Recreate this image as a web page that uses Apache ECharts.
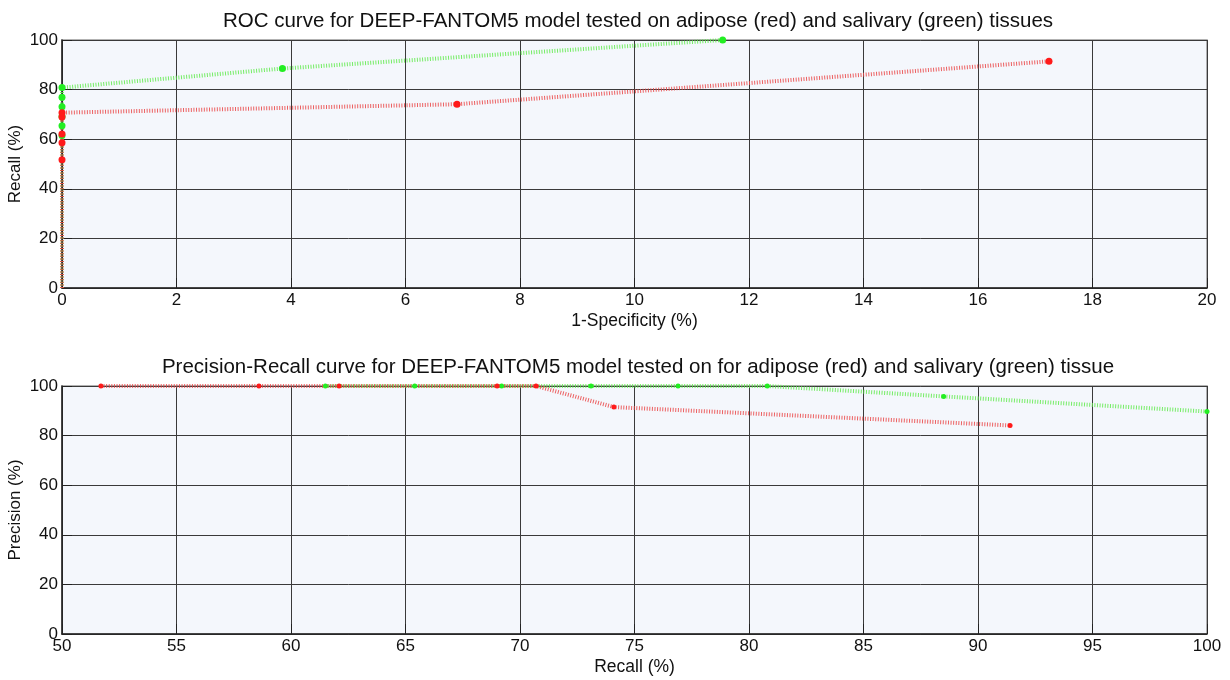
<!DOCTYPE html>
<html>
<head>
<meta charset="utf-8">
<script src="https://cdn.jsdelivr.net/npm/echarts@6/dist/echarts.min.js"></script>
<style>
html,body{margin:0;padding:0;background:#fff;}
#c{width:1230px;height:680px;}
</style>
</head>
<body>
<div id="c"></div>
<script>
// ROC data (percent)
const rocRedFpr   = [0, 0, 0, 0, 0, 0, 6.9, 17.24];
const rocRedTpr   = [0, 51.7, 58.6, 62.1, 69.0, 70.7, 74.1, 91.4];
const rocGreenFpr = [0, 0, 0, 0, 0, 0, 0, 3.85, 11.54];
const rocGreenTpr = [0, 61.5, 65.4, 69.2, 73.1, 76.9, 80.8, 88.5, 100];
// Precision-Recall data (percent)
const prRedRecall      = [51.7, 58.6, 62.1, 69.0, 70.7, 74.1, 91.4];
const prRedPrecision   = [100, 100, 100, 100, 100, 91.5, 84.1];
const prGreenRecall    = [61.5, 65.4, 69.2, 73.1, 76.9, 80.8, 88.5, 100];
const prGreenPrecision = [100, 100, 100, 100, 100, 100, 95.8, 89.7];
// Titles / labels
const rocTitle = 'ROC curve for DEEP-FANTOM5 model tested on adipose (red) and salivary (green) tissues';
const prTitle = 'Precision-Recall curve for DEEP-FANTOM5 model tested on for adipose (red) and salivary (green) tissue';

const FONT = '"Liberation Sans", Arial, Helvetica, sans-serif';
const RED_M = '#ff1a1a', GREEN_M = '#22ee22';
const RED_L = 'rgba(235,70,70,0.85)', GREEN_L = 'rgba(95,235,75,0.85)';

function pts(xs, ys, noFirstSymbol) {
  return xs.map((x, i) => (noFirstSymbol && i === 0 && xs[0] === 0 && ys[0] === 0)
    ? { value: [x, ys[i]], symbol: 'none' } : [x, ys[i]]);
}

function xAxis(gi, min, max, interval, name) {
  return {
    gridIndex: gi, type: 'value', min, max, interval,
    name, nameLocation: 'middle', nameGap: 24, nameMoveOverlap: false,
    nameTextStyle: { fontFamily: FONT, fontSize: 17.5, color: '#111' },
    axisLine: { show: true, lineStyle: { color: '#222', width: 1.5 } },
    axisTick: { show: true, inside: true, length: 10, lineStyle: { color: '#222' } },
    axisLabel: { fontFamily: FONT, fontSize: 17, color: '#111', margin: 4 },
    splitLine: { show: true, lineStyle: { color: '#3a3a3a', width: 1 } }
  };
}
function yAxis(gi, name) {
  return {
    gridIndex: gi, type: 'value', min: 0, max: 100, interval: 20,
    name, nameLocation: 'middle', nameGap: 38, nameMoveOverlap: false,
    nameTextStyle: { fontFamily: FONT, fontSize: 17, color: '#111' },
    axisLine: { show: true, lineStyle: { color: '#222', width: 1.5 } },
    axisTick: { show: true, inside: true, length: 10, lineStyle: { color: '#222' } },
    axisLabel: { fontFamily: FONT, fontSize: 17, color: '#111', margin: 4 },
    splitLine: { show: true, lineStyle: { color: '#3a3a3a', width: 1 } }
  };
}
function series(xi, data, lineColor, markColor, size) {
  return {
    type: 'line', xAxisIndex: xi, yAxisIndex: xi, data,
    symbol: 'circle', symbolSize: size, clip: false,
    itemStyle: { color: markColor },
    lineStyle: { color: lineColor, width: 4, type: [1, 1.6] },
    z: 3
  };
}

const chart = echarts.init(document.getElementById('c'), null, { renderer: 'canvas' });
chart.setOption({
  animation: false,
  backgroundColor: '#ffffff',
  title: [
    { text: rocTitle, left: 633, top: 6, textAlign: 'center',
      textStyle: { fontFamily: FONT, fontSize: 20.5, fontWeight: 'normal', color: '#111' } },
    { text: prTitle, left: 633, top: 352, textAlign: 'center',
      textStyle: { fontFamily: FONT, fontSize: 20.5, fontWeight: 'normal', color: '#111' } }
  ],
  grid: [
    { left: 62, top: 40, width: 1145, height: 248, show: true, backgroundColor: '#f4f7fc', borderColor: '#999', borderWidth: 1.5, containLabel: false, outerBoundsMode: 'none' },
    { left: 62, top: 386, width: 1145, height: 248, show: true, backgroundColor: '#f4f7fc', borderColor: '#999', borderWidth: 1.5, containLabel: false, outerBoundsMode: 'none' }
  ],
  xAxis: [
    xAxis(0, 0, 20, 2, '1-Specificity (%)'),
    xAxis(1, 50, 100, 5, 'Recall (%)')
  ],
  yAxis: [
    yAxis(0, 'Recall (%)'),
    yAxis(1, 'Precision (%)')
  ],
  series: [
    series(0, pts(rocGreenFpr, rocGreenTpr, true), GREEN_L, GREEN_M, 7),
    series(0, pts(rocRedFpr, rocRedTpr, true), RED_L, RED_M, 7),
    series(1, pts(prGreenRecall, prGreenPrecision, false), GREEN_L, GREEN_M, 5),
    series(1, pts(prRedRecall, prRedPrecision, false), RED_L, RED_M, 5)
  ]
});
</script>
</body>
</html>
